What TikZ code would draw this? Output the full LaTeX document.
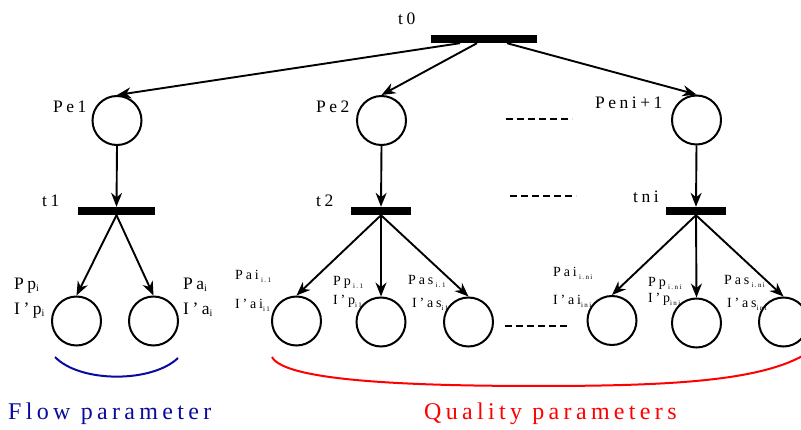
\documentclass[tikz,border=0pt]{standalone}
\usepackage{fontspec}
\setmainfont{Liberation Serif}
\newfontfamily\lsfont[LetterSpace=20]{Liberation Serif}
\newfontfamily\bigfont[LetterSpace=18]{Liberation Serif}
\usetikzlibrary{arrows.meta}
\definecolor{flowblue}{RGB}{10,10,160}
\definecolor{qred}{RGB}{255,0,0}
\newcommand\lsubA[1]{\raisebox{-1.5pt}{\fontsize{10}{10}\selectfont #1}}
\newcommand\lsubB[1]{\raisebox{-2.5pt}{\fontsize{7}{7}\selectfont #1}}
\begin{document}
\begin{tikzpicture}[x=1pt,y=-1pt,
  place/.style={circle,draw,line width=2pt,minimum size=49pt,inner sep=0pt},
  bar/.style={fill=black,inner sep=0pt,minimum height=8pt},
  arr/.style={line width=1.9pt,-{Stealth[length=14pt,width=11pt]}},
  lblA/.style={font=\lsfont\fontsize{17.5}{17.5}\selectfont,inner sep=0pt,anchor=base west},
  lblB/.style={font=\lsfont\fontsize{14}{14}\selectfont,inner sep=0pt,anchor=base west},
  big/.style={font=\bigfont\fontsize{24}{24}\selectfont,inner sep=0pt,anchor=base west},
  dots/.style={line width=2pt,dash pattern=on 7pt off 4pt}]
\useasboundingbox (0,0) rectangle (801,430);
% transitions
\node[bar,minimum width=106pt] (t0) at (484,39) {};
\node[bar,minimum width=77pt] (t1) at (116.5,211) {};
\node[bar,minimum width=60pt] (t2) at (381,211) {};
\node[bar,minimum width=60pt] (tn) at (696,211) {};
% upper places
\node[place] (Pe1) at (117,120.5) {};
\node[place] (Pe2) at (381.5,120.5) {};
\node[place] (Pen) at (696.5,120) {};
% lower places
\node[place] (c1) at (76.5,321) {};
\node[place] (c2) at (153.5,321) {};
\node[place] (c3) at (296.5,321) {};
\node[place] (c4) at (381,322) {};
\node[place] (c5) at (468.5,322) {};
\node[place] (c6) at (612,320.5) {};
\node[place] (c7) at (696.5,323) {};
\node[place] (c8) at (783.5,322) {};
% arcs
\draw[arr] ([xshift=-24pt]t0.south) -- (Pe1.north);
\draw[arr] ([xshift=-7pt]t0.south) -- (Pe2.north);
\draw[arr] ([xshift=23pt]t0.south) -- (Pen.north);
\draw[arr] (Pe1.south) -- (t1.north);
\draw[arr] (Pe2.south) -- (t2.north);
\draw[arr] (Pen.south) -- (tn.north);
\draw[arr] (t1.south) -- (c1.north);
\draw[arr] (t1.south) -- (c2.north);
\draw[arr] (t2.south) -- (c3.north);
\draw[arr] (t2.south) -- (c4.north);
\draw[arr] (t2.south) -- (c5.north);
\draw[arr] (tn.south) -- (c6.north);
\draw[arr] (tn.south) -- (c7.north);
\draw[arr] (tn.south) -- (c8.north);
% dashes
\draw[dots] (506,119) -- (572,119);
\draw[dots] (510,196) -- (576,196);
\draw[dots] (505,326) -- (569,326);
% labels
\node[lblA] (lt0) at (398,25) {t0};
\node[lblA] (lpe1) at (53,113) {Pe1};
\node[lblA] (lpe2) at (316,113) {Pe2};
\node[lblA] (lpen) at (595,109) {Peni+1};
\node[lblA] (lt1) at (42,207) {t1};
\node[lblA] (lt2) at (316,207) {t2};
\node[lblA] (ltn) at (633,203) {tni};
\node[lblA] (lpp) at (14,290) {Pp\lsubA{i}};
\node[lblA] (lip) at (14,315) {I’p\lsubA{i}};
\node[lblA] (lpa) at (183,290) {Pa\lsubA{i}};
\node[lblA] (lia) at (183,315) {I’a\lsubA{i}};
\node[lblB] (m1) at (235,280) {Pai\,\lsubB{i.1}};
\node[lblB] (m2) at (235,309) {I’ai\lsubB{i1}};
\node[lblB] (m3) at (333,286) {Pp\,\lsubB{i.1}};
\node[lblB] (m4) at (333,305) {I’p\lsubB{i1}};
\node[lblB] (m5) at (408,285) {Pas\,\lsubB{i.1}};
\node[lblB] (m6) at (412,308) {I’as\lsubB{i1}};
\node[lblB] (r1) at (553,277) {Pai\,\lsubB{i.ni}};
\node[lblB] (r2) at (553,305) {I’ai\lsubB{ini}};
\node[lblB] (r3) at (648,287) {Pp\,\lsubB{i.ni}};
\node[lblB] (r4) at (648,303) {I’p\lsubB{ini}};
\node[lblB] (r5) at (724,285) {Pas\,\lsubB{i.ni}};
\node[lblB] (r6) at (727,308) {I’as\lsubB{ini}};
% braces
\draw[flowblue,line width=2pt] (55,357) .. controls (80,383) and (152,383) .. (178,358);
\draw[qred,line width=2pt] (272,357) .. controls (285,382) and (420,386) .. (540,386) .. controls (680,386) and (770,380) .. (812,350);
\node[big,text=flowblue] (flow) at (8,420) {Flow parameter};
\node[big,text=qred] (qual) at (424,420) {Quality parameters};
\end{tikzpicture}
\end{document}
